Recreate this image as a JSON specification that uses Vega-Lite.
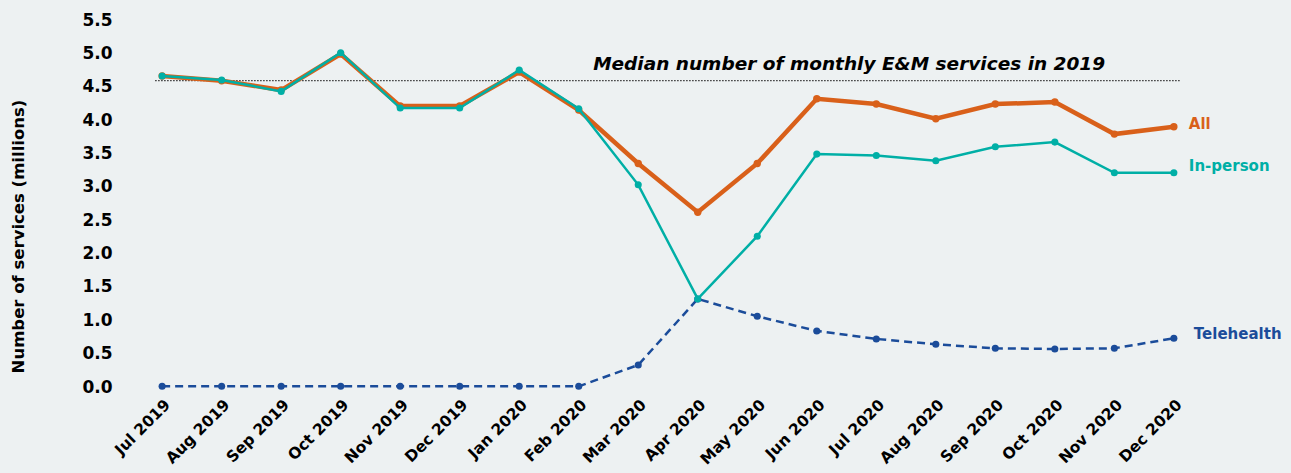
{
  "$schema": "https://vega.github.io/schema/vega-lite/v6.json",
  "width": 1076,
  "height": 367,
  "autosize": {"type": "none"},
  "padding": {"left": 130, "top": 20, "right": 85, "bottom": 86},
  "background": "#edf1f2",
  "config": {
    "view": {"stroke": null},
    "font": "DejaVu Sans",
    "axis": {"grid": false, "domain": false, "ticks": false}
  },
  "datasets": {
    "d": [
      {"m": "Jul 2019", "s": "All", "v": 4.66}, {"m": "Aug 2019", "s": "All", "v": 4.59}, {"m": "Sep 2019", "s": "All", "v": 4.45},
      {"m": "Oct 2019", "s": "All", "v": 4.99}, {"m": "Nov 2019", "s": "All", "v": 4.21}, {"m": "Dec 2019", "s": "All", "v": 4.21},
      {"m": "Jan 2020", "s": "All", "v": 4.72}, {"m": "Feb 2020", "s": "All", "v": 4.15}, {"m": "Mar 2020", "s": "All", "v": 3.35},
      {"m": "Apr 2020", "s": "All", "v": 2.62}, {"m": "May 2020", "s": "All", "v": 3.35}, {"m": "Jun 2020", "s": "All", "v": 4.32},
      {"m": "Jul 2020", "s": "All", "v": 4.24}, {"m": "Aug 2020", "s": "All", "v": 4.02}, {"m": "Sep 2020", "s": "All", "v": 4.24},
      {"m": "Oct 2020", "s": "All", "v": 4.27}, {"m": "Nov 2020", "s": "All", "v": 3.79}, {"m": "Dec 2020", "s": "All", "v": 3.90},
      {"m": "Jul 2019", "s": "In-person", "v": 4.66}, {"m": "Aug 2019", "s": "In-person", "v": 4.60}, {"m": "Sep 2019", "s": "In-person", "v": 4.43},
      {"m": "Oct 2019", "s": "In-person", "v": 5.01}, {"m": "Nov 2019", "s": "In-person", "v": 4.18}, {"m": "Dec 2019", "s": "In-person", "v": 4.18},
      {"m": "Jan 2020", "s": "In-person", "v": 4.75}, {"m": "Feb 2020", "s": "In-person", "v": 4.17}, {"m": "Mar 2020", "s": "In-person", "v": 3.03},
      {"m": "Apr 2020", "s": "In-person", "v": 1.32}, {"m": "May 2020", "s": "In-person", "v": 2.26}, {"m": "Jun 2020", "s": "In-person", "v": 3.49},
      {"m": "Jul 2020", "s": "In-person", "v": 3.47}, {"m": "Aug 2020", "s": "In-person", "v": 3.39}, {"m": "Sep 2020", "s": "In-person", "v": 3.60},
      {"m": "Oct 2020", "s": "In-person", "v": 3.67}, {"m": "Nov 2020", "s": "In-person", "v": 3.21}, {"m": "Dec 2020", "s": "In-person", "v": 3.21},
      {"m": "Jul 2019", "s": "Telehealth", "v": 0.01}, {"m": "Aug 2019", "s": "Telehealth", "v": 0.01}, {"m": "Sep 2019", "s": "Telehealth", "v": 0.01},
      {"m": "Oct 2019", "s": "Telehealth", "v": 0.01}, {"m": "Nov 2019", "s": "Telehealth", "v": 0.01}, {"m": "Dec 2019", "s": "Telehealth", "v": 0.01},
      {"m": "Jan 2020", "s": "Telehealth", "v": 0.01}, {"m": "Feb 2020", "s": "Telehealth", "v": 0.01}, {"m": "Mar 2020", "s": "Telehealth", "v": 0.33},
      {"m": "Apr 2020", "s": "Telehealth", "v": 1.32}, {"m": "May 2020", "s": "Telehealth", "v": 1.06}, {"m": "Jun 2020", "s": "Telehealth", "v": 0.84},
      {"m": "Jul 2020", "s": "Telehealth", "v": 0.72}, {"m": "Aug 2020", "s": "Telehealth", "v": 0.64}, {"m": "Sep 2020", "s": "Telehealth", "v": 0.58},
      {"m": "Oct 2020", "s": "Telehealth", "v": 0.57}, {"m": "Nov 2020", "s": "Telehealth", "v": 0.58}, {"m": "Dec 2020", "s": "Telehealth", "v": 0.73}
    ],
    "labels": [
      {"m": "Dec 2020", "s": "All", "v": 3.90, "t": "All"},
      {"m": "Dec 2020", "s": "In-person", "v": 3.21, "t": "In-person"},
      {"m": "Dec 2020", "s": "Telehealth", "v": 0.73, "t": "Telehealth"}
    ],
    "median": [{"m": "Jul 2019", "m2": "Dec 2020", "v": 4.59, "t": "Median number of monthly E&M services in 2019"}]
  },
  "encoding": {
    "x": {
      "field": "m", "type": "ordinal", "sort": null,
      "scale": {"type": "point", "padding": 0.54,
        "domain": ["Jul 2019","Aug 2019","Sep 2019","Oct 2019","Nov 2019","Dec 2019","Jan 2020","Feb 2020","Mar 2020","Apr 2020","May 2020","Jun 2020","Jul 2020","Aug 2020","Sep 2020","Oct 2020","Nov 2020","Dec 2020"]},
      "axis": {"title": null, "labelAngle": -45, "labelFontSize": 15.5, "labelFontWeight": "bold", "labelColor": "#000000", "labelPadding": 10}
    },
    "y": {
      "field": "v", "type": "quantitative",
      "scale": {"domain": [0, 5.5], "nice": false, "zero": true},
      "axis": {"title": "Number of services (millions)", "values": [0,0.5,1,1.5,2,2.5,3,3.5,4,4.5,5,5.5], "format": ".1f",
               "labelFontSize": 17, "labelFontWeight": "bold", "labelColor": "#000000", "labelPadding": 18,
               "titleFontSize": 16.5, "titleFontWeight": "bold", "titleColor": "#000000", "titlePadding": 55, "titleY": 216}
    }
  },
  "layer": [
    {
      "data": {"name": "median"},
      "mark": {"type": "rule", "color": "#333333", "strokeWidth": 1.2, "strokeDash": [1.5, 1.5], "xOffset": -7, "x2Offset": 7},
      "encoding": {"x2": {"field": "m2"}}
    },
    {
      "data": {"name": "median"},
      "mark": {"type": "text", "align": "left", "baseline": "alphabetic", "dx": 431, "dy": -11, "fontSize": 18.5, "fontWeight": "bold", "fontStyle": "italic", "color": "#000000"},
      "encoding": {"text": {"field": "t"}}
    },
    {
      "data": {"name": "d"},
      "transform": [{"filter": "datum.s === 'Telehealth'"}],
      "mark": {"type": "line", "color": "#1b4c9a", "strokeWidth": 2.5, "strokeDash": [8, 5], "point": {"filled": true, "size": 50, "color": "#1b4c9a"}},
      "encoding": {}
    },
    {
      "data": {"name": "d"},
      "transform": [{"filter": "datum.s === 'All'"}],
      "mark": {"type": "line", "color": "#d9601a", "strokeWidth": 4.5, "point": {"filled": true, "size": 55, "color": "#d9601a"}},
      "encoding": {}
    },
    {
      "data": {"name": "d"},
      "transform": [{"filter": "datum.s === 'In-person'"}],
      "mark": {"type": "line", "color": "#00afa6", "strokeWidth": 2.5, "point": {"filled": true, "size": 50, "color": "#00afa6"}},
      "encoding": {}
    },
    {
      "data": {"name": "labels"},
      "transform": [{"filter": "datum.s === 'All'"}],
      "mark": {"type": "text", "align": "left", "baseline": "middle", "dx": 15, "dy": -3, "fontSize": 15, "fontWeight": "bold", "color": "#d9601a"},
      "encoding": {"text": {"field": "t"}}
    },
    {
      "data": {"name": "labels"},
      "transform": [{"filter": "datum.s === 'In-person'"}],
      "mark": {"type": "text", "align": "left", "baseline": "middle", "dx": 15, "dy": -7, "fontSize": 15, "fontWeight": "bold", "color": "#00afa6"},
      "encoding": {"text": {"field": "t"}}
    },
    {
      "data": {"name": "labels"},
      "transform": [{"filter": "datum.s === 'Telehealth'"}],
      "mark": {"type": "text", "align": "left", "baseline": "middle", "dx": 20, "dy": -4, "fontSize": 15, "fontWeight": "bold", "color": "#1b4c9a"},
      "encoding": {"text": {"field": "t"}}
    }
  ]
}
